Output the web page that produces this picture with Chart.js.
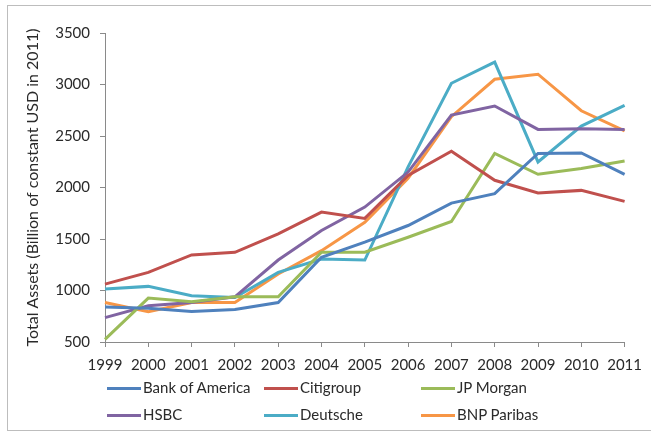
<!DOCTYPE html>
<html>
<head>
<meta charset="utf-8">
<script src="https://cdn.jsdelivr.net/npm/chart.js@4.4.0/dist/chart.umd.min.js"></script>
<style>
  html, body { margin: 0; padding: 0; background: #fff; }
  #wrap { position: relative; width: 651px; height: 439px; overflow: hidden; background: #fff; }
  #frame { position: absolute; left: 7px; top: 5px; width: 700px; height: 426px; border: 1px solid #bdbdbd; box-sizing: border-box; }
  #c { position: absolute; left: 0; top: 0; }
  .lg { position: absolute; font-family: Lato, sans-serif; font-size: 15px; color: #2a2a2a; line-height: 16px; white-space: nowrap; }
  .lg span.sw { display: inline-block; width: 34px; height: 3px; vertical-align: middle; margin-right: 2px; position: relative; top: -1px; }
</style>
</head>
<body>
<div id="wrap">
  <div id="frame"></div>
  <canvas id="c" width="651" height="439"></canvas>
  <div id="legend"></div>
</div>
<script>
const years = ["1999","2000","2001","2002","2003","2004","2005","2006","2007","2008","2009","2010","2011"];
const bankOfAmerica = [840, 828, 795, 815, 883, 1322, 1470, 1631, 1848, 1940, 2330, 2336, 2128];
const citigroup     = [1062, 1176, 1345, 1371, 1550, 1761, 1700, 2118, 2352, 2070, 1946, 1972, 1865];
const jpMorgan      = [526, 926, 890, 939, 939, 1371, 1371, 1517, 1670, 2330, 2128, 2184, 2258];
const hsbc          = [737, 851, 883, 939, 1296, 1582, 1810, 2150, 2703, 2791, 2564, 2570, 2564];
const deutsche      = [1014, 1040, 949, 932, 1176, 1306, 1296, 2200, 3012, 3217, 2248, 2596, 2798];
const bnpParibas    = [883, 795, 883, 883, 1160, 1387, 1663, 2090, 2687, 3051, 3100, 2745, 2550];
const yTicks = [500, 1000, 1500, 2000, 2500, 3000, 3500];

const seriesNames = ["Bank of America","Citigroup","JP Morgan","HSBC","Deutsche","BNP Paribas"];
const seriesData = [bankOfAmerica, citigroup, jpMorgan, hsbc, deutsche, bnpParibas];
const seriesColors = ["#4F81BD","#C0504D","#9BBB59","#8064A2","#4BACC6","#F79646"];

const datasets = seriesNames.map((n, i) => ({
  label: n, data: seriesData[i], borderColor: seriesColors[i], backgroundColor: seriesColors[i],
  borderWidth: 3, pointRadius: 0, tension: 0, fill: false
}));

const axisColor = "#8a8a8a";
const tickFont = { family: "Lato, sans-serif", size: 15 };

new Chart(document.getElementById("c"), {
  type: "line",
  data: { labels: years, datasets },
  options: {
    responsive: false,
    animation: false,
    devicePixelRatio: 1,
    layout: { padding: { left: 10, top: 33, right: 26, bottom: 57 } },
    plugins: { legend: { display: false }, tooltip: { enabled: false } },
    scales: {
      x: {
        offset: false,
        grid: { drawOnChartArea: false, drawTicks: true, tickLength: 5, color: axisColor, offset: false },
        border: { color: axisColor, width: 1 },
        ticks: { font: tickFont, color: "#2a2a2a", padding: 9, maxRotation: 0, autoSkip: false },
        afterFit: s => { s.height = 40; }
      },
      y: {
        min: 500, max: 3500,
        afterBuildTicks: s => { s.ticks = yTicks.map(v => ({ value: v })); },
        grid: { drawOnChartArea: false, drawTicks: true, tickLength: 5, color: axisColor },
        border: { color: axisColor, width: 1 },
        ticks: { font: tickFont, color: "#2a2a2a", padding: 10, callback: v => String(v) },
        title: { display: true, text: "Total Assets (Billion of constant USD in 2011)", font: { family: "Lato, sans-serif", size: 16 }, color: "#2a2a2a", padding: { top: 13, bottom: 0 } },
        afterFit: s => { s.width = 95; }
      }
    }
  }
});

const legendPos = [
  { x: 107, y: 379 }, { x: 264, y: 379 }, { x: 421, y: 379 },
  { x: 107, y: 406 }, { x: 264, y: 406 }, { x: 421, y: 406 }
];
const lg = document.getElementById("legend");
seriesNames.forEach((n, i) => {
  const d = document.createElement("div");
  d.className = "lg";
  d.style.left = legendPos[i].x + "px";
  d.style.top = legendPos[i].y + "px";
  d.innerHTML = '<span class="sw" style="background:' + seriesColors[i] + '"></span>' + n;
  lg.appendChild(d);
});
</script>
</body>
</html>
